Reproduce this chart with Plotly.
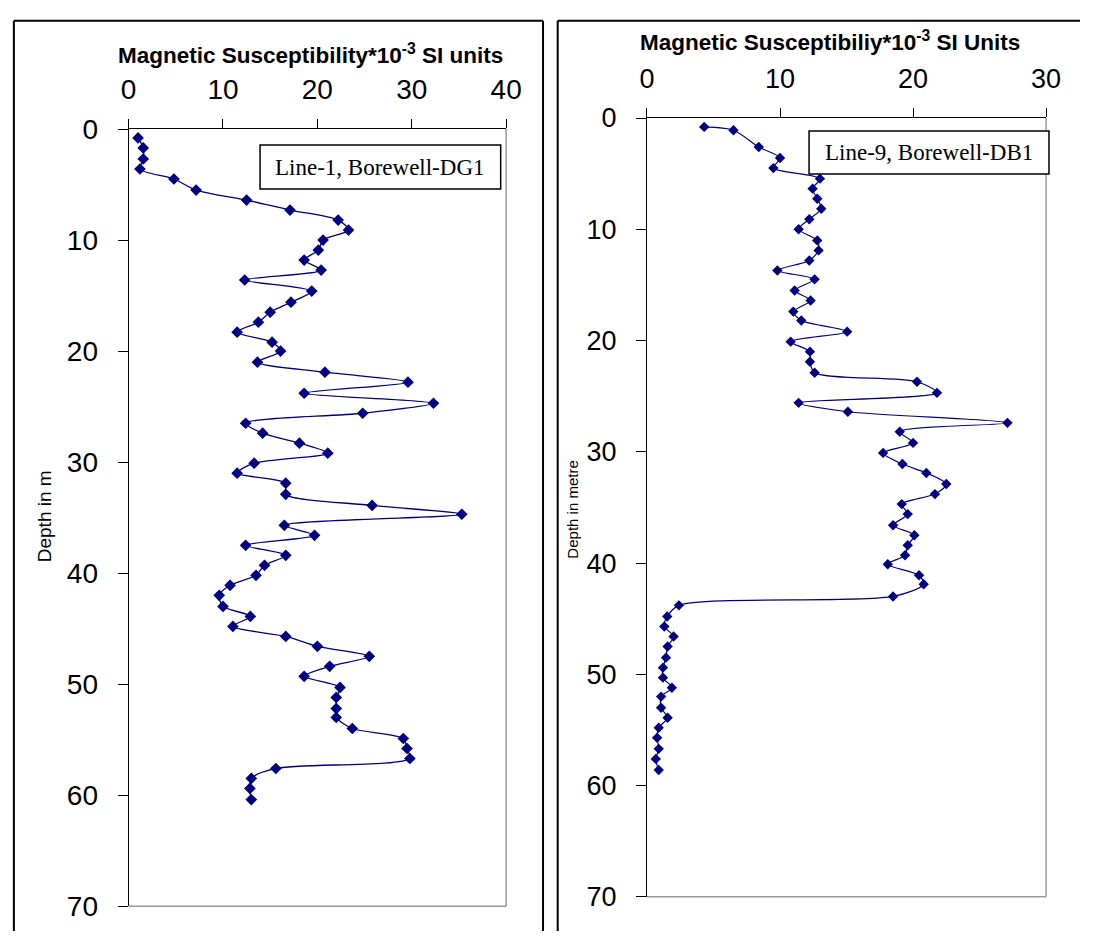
import plotly.graph_objects as go

W, H = 1096, 947

# ---------------- data ----------------
depth_dg1 = [0.8, 1.7, 2.7, 3.6, 4.5, 5.5, 6.4, 7.3, 8.2, 9.1,
             10.0, 10.9, 11.8, 12.7, 13.6, 14.6, 15.6, 16.5, 17.4, 18.3,
             19.2, 20.0, 21.0, 21.9, 22.8, 23.8, 24.7, 25.6, 26.5, 27.4,
             28.3, 29.2, 30.1, 31.0, 31.9, 32.9, 33.9, 34.7, 35.7, 36.6,
             37.5, 38.4, 39.3, 40.2, 41.1, 42.0, 43.0, 43.9, 44.8, 45.7,
             46.6, 47.5, 48.4, 49.3, 50.3, 51.2, 52.2, 53.0, 54.0, 54.9,
             55.8, 56.7, 57.6, 58.5, 59.4, 60.4]
sus_dg1 = [1.0, 1.55, 1.55, 1.2, 4.8, 7.15, 12.5, 17.1, 22.2, 23.3,
           20.6, 20.1, 18.6, 20.4, 12.3, 19.4, 17.2, 15.0, 13.75, 11.5,
           15.2, 16.1, 13.65, 20.8, 29.6, 18.6, 32.3, 24.8, 12.4, 14.2,
           18.1, 21.1, 13.3, 11.5, 16.65, 16.65, 25.8, 35.3, 16.5, 19.7,
           12.4, 16.65, 14.4, 13.5, 10.75, 9.6, 10.0, 12.9, 11.05, 16.65,
           20.0, 25.5, 21.3, 18.6, 22.4, 22.0, 22.0, 22.0, 23.7, 29.1,
           29.5, 29.8, 15.6, 13.0, 12.85, 13.0]

depth_db1 = [0.8, 1.1, 2.6, 3.6, 4.5, 5.45, 6.35, 7.25, 8.15, 9.1,
             10.0, 11.0, 11.9, 12.8, 13.7, 14.5, 15.5, 16.4, 17.4, 18.2,
             19.2, 20.1, 21.0, 21.9, 22.9, 23.7, 24.7, 25.6, 26.4, 27.4,
             28.2, 29.2, 30.1, 31.1, 31.9, 32.9, 33.8, 34.7, 35.6, 36.6,
             37.5, 38.4, 39.3, 40.1, 41.1, 41.9, 43.0, 43.8, 44.8, 45.7,
             46.6, 47.5, 48.5, 49.4, 50.3, 51.2, 52.0, 53.0, 53.9, 54.8,
             55.7, 56.7, 57.6, 58.6]
sus_db1 = [4.3, 6.5, 8.4, 10.0, 9.5, 13.0, 12.45, 12.8, 13.1, 12.2,
           11.4, 12.8, 12.9, 12.2, 9.8, 12.6, 11.1, 12.3, 11.0, 11.6,
           15.05, 10.8, 12.25, 12.25, 12.6, 20.3, 21.8, 11.4, 15.1, 27.1,
           19.0, 20.0, 17.75, 19.2, 21.0, 22.5, 21.65, 19.15, 19.6, 18.5,
           20.1, 19.6, 19.4, 18.1, 20.45, 20.8, 18.5, 2.4, 1.52, 1.3,
           2.0, 1.55, 1.43, 1.2, 1.2, 1.87, 1.06, 1.06, 1.55, 0.88,
           0.76, 0.88, 0.66, 0.88]

x_ticks_dg1 = [0, 10, 20, 30, 40]
x_ticks_db1 = [0, 10, 20, 30]
y_ticks = [0, 10, 20, 30, 40, 50, 60, 70]

title_dg1 = "Magnetic Susceptibility*10<sup>-3</sup> SI units"
title_db1 = "Magnetic Susceptibiliy*10<sup>-3</sup> SI Units"
label_dg1 = "Line-1, Borewell-DG1"
label_db1 = "Line-9, Borewell-DB1"
ytitle_dg1 = "Depth in m"
ytitle_db1 = "Depth in metre"

# ---------------- helpers (reference pixel -> paper fraction) ----------------
def px(x):
    return x / W

def py(y):
    return 1 - y / H

NAVY = "#000080"
SANS = "Liberation Sans, Arial, sans-serif"
SERIF = "Liberation Serif, Times New Roman, serif"

# plot area pixel boxes
L = dict(x0=123.3, x1=509.3, y0=117.9, y1=921.3)
R = dict(x0=653.3, x1=1061.3, y0=106.5, y1=911.7)

fig = go.Figure()
fig.add_trace(go.Scatter(
    x=sus_dg1, y=depth_dg1, mode="lines+markers", xaxis="x", yaxis="y",
    line=dict(color=NAVY, width=1.3, shape="spline", smoothing=0.8),
    marker=dict(symbol="diamond", size=9, color=NAVY),
    hoverinfo="x+y", cliponaxis=False))
fig.add_trace(go.Scatter(
    x=sus_db1, y=depth_db1, mode="lines+markers", xaxis="x2", yaxis="y2",
    line=dict(color=NAVY, width=1.2, shape="spline", smoothing=0.8),
    marker=dict(symbol="diamond", size=8, color=NAVY),
    hoverinfo="x+y", cliponaxis=False))

def xaxis(box, rng, ticks, anchor, size):
    return dict(domain=[px(box["x0"]), px(box["x1"])], range=rng, anchor=anchor,
                side="top", tickmode="array", tickvals=ticks, ticks="outside",
                ticklen=9, tickcolor="black", tickwidth=1, showline=True,
                linecolor="black", linewidth=1, showgrid=False, zeroline=False,
                ticklabelstandoff=9,
                tickfont=dict(family=SANS, size=size, color="black"),
                fixedrange=True)

def yaxis(box, anchor, size):
    return dict(domain=[py(box["y1"]), py(box["y0"])], range=[70, 0], anchor=anchor,
                tickmode="array", tickvals=y_ticks, ticks="outside", ticklen=10,
                tickcolor="black", tickwidth=1, showline=True, linecolor="black",
                linewidth=1, showgrid=False, zeroline=False,
                ticklabelstandoff=14,
                tickfont=dict(family=SANS, size=size, color="black"),
                fixedrange=True)

fig.update_layout(
    width=W, height=H, margin=dict(l=0, r=0, t=0, b=0, pad=0),
    paper_bgcolor="white", plot_bgcolor="white", showlegend=False,
    xaxis=xaxis(L, [0, 40], x_ticks_dg1, "y", 28),
    yaxis=yaxis(L, "x", 28),
    xaxis2=xaxis(R, [0, 30], x_ticks_db1, "y2", 27),
    yaxis2=yaxis(R, "x2", 27),
)

shapes = []

def seg(x0, y0, x1, y1, color="black", width=2):
    return dict(type="line", xref="paper", yref="paper",
                x0=px(x0), x1=px(x1), y0=py(y0), y1=py(y1),
                line=dict(color=color, width=width), layer="above")

# outer frames (cut by the picture edge at right / bottom)
shapes += [seg(6, 6, 547, 6), seg(6, 6, 6, 947), seg(547, 6, 547, 947),
           seg(562, 6, 1096, 6), seg(562, 6, 562, 947)]
# grey right/bottom plot-area borders
for b in (L, R):
    shapes.append(seg(b["x1"], b["y0"], b["x1"], b["y1"], "#9a9a9a", 1.5))
    shapes.append(seg(b["x0"], b["y1"], b["x1"], b["y1"], "#9a9a9a", 1.5))
# label boxes
shapes.append(dict(type="rect", xref="paper", yref="paper",
                   x0=px(257.7), x1=px(503.7), y0=py(180), y1=py(134.3),
                   line=dict(color="black", width=1.5), fillcolor="white", layer="above"))
shapes.append(dict(type="rect", xref="paper", yref="paper",
                   x0=px(819), x1=px(1064.3), y0=py(164.3), y1=py(120),
                   line=dict(color="black", width=1.5), fillcolor="white", layer="above"))
fig.update_layout(shapes=shapes)

ann = []
ann.append(dict(text=f"<b>{title_dg1}</b>", x=px(309), y=py(57), xref="paper", yref="paper",
                xanchor="center", yanchor="bottom", showarrow=False,
                font=dict(family=SANS, size=22.5, color="black")))
ann.append(dict(text=f"<b>{title_db1}</b>", x=px(840), y=py(43), xref="paper", yref="paper",
                xanchor="center", yanchor="bottom", showarrow=False,
                font=dict(family=SANS, size=22.5, color="black")))
ann.append(dict(text=label_dg1, x=px(380.7), y=py(157.2), xref="paper", yref="paper",
                xanchor="center", yanchor="middle", showarrow=False,
                font=dict(family=SERIF, size=23, color="black")))
ann.append(dict(text=label_db1, x=px(941.6), y=py(142.2), xref="paper", yref="paper",
                xanchor="center", yanchor="middle", showarrow=False,
                font=dict(family=SERIF, size=23, color="black")))
ann.append(dict(text=ytitle_dg1, x=px(37), y=py(518), xref="paper", yref="paper",
                xanchor="center", yanchor="middle", showarrow=False, textangle=-90,
                font=dict(family=SANS, size=19, color="black")))
ann.append(dict(text=ytitle_db1, x=px(577), y=py(511), xref="paper", yref="paper",
                xanchor="center", yanchor="middle", showarrow=False, textangle=-90,
                font=dict(family=SANS, size=15, color="black")))
fig.update_layout(annotations=ann)

post = ("var gd=document.getElementById('{plot_id}');"
        "document.documentElement.style.margin='0';"
        "document.documentElement.style.overflow='hidden';"
        "document.body.style.margin='0';document.body.style.padding='0';"
        "document.body.style.overflow='hidden';"
        "gd.style.position='absolute';gd.style.left='0px';gd.style.top='0px';")

fig.write_html("out.html", config={"displayModeBar": False}, post_script=post)
